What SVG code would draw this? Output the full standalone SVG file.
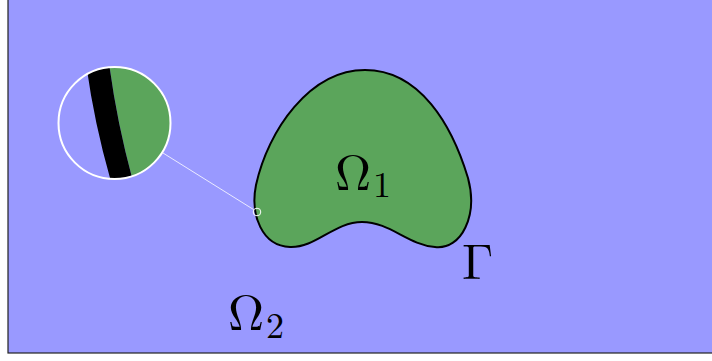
<svg xmlns="http://www.w3.org/2000/svg" width="712" height="361" viewBox="0 0 712 361">
<style>
.lbl{font-family:"Latin Modern Roman","Liberation Serif",serif;fill:#000}
</style>
<defs>
<clipPath id="mag"><circle cx="114.5" cy="123" r="56"/></clipPath>
</defs>
<rect x="8" y="-5" width="710" height="358" fill="#9999ff" stroke="#222" stroke-width="1.2"/>
<g id="omega1">
<path d="M 365,70 C 420,70 452,125 468,178 C 478,215 462,250 435,247 C 408,245 390,222 362,222 C 334,222 316,248 290,247 C 262,246 250,215 256,185 C 268,130 310,70 365,70 Z" fill="#5ba55b" stroke="#000" stroke-width="2"/>
<text class="lbl" x="335" y="190" font-size="50">Ω</text>
<text class="lbl" x="373" y="197" font-size="36">1</text>
</g>
<g id="gamma"><text class="lbl" x="462" y="279" font-size="50">Γ</text></g>
<g id="omega2">
<text class="lbl" x="228" y="330" font-size="50">Ω</text>
<text class="lbl" x="266" y="338" font-size="36">2</text>
</g>
<g id="magnifier">
<g clip-path="url(#mag)">
<rect x="55" y="60" width="125" height="125" fill="#9999ff"/>
<path d="M 108,55 Q 116,120 134,185 L 185,185 L 185,55 Z" fill="#5ba55b"/>
<path d="M 85,55 L 108,55 Q 116,120 134,185 L 112,185 Q 93,120 85,55 Z" fill="#000"/>
</g>
<circle cx="114.5" cy="123" r="56" fill="none" stroke="#fff" stroke-width="2"/>
</g>
<g id="connectors">
<line x1="163" y1="153" x2="253.5" y2="209.5" stroke="#fff" stroke-width="0.8"/>
<circle cx="257" cy="212" r="3.8" fill="none" stroke="#fff" stroke-width="1"/>
</g>
</svg>
